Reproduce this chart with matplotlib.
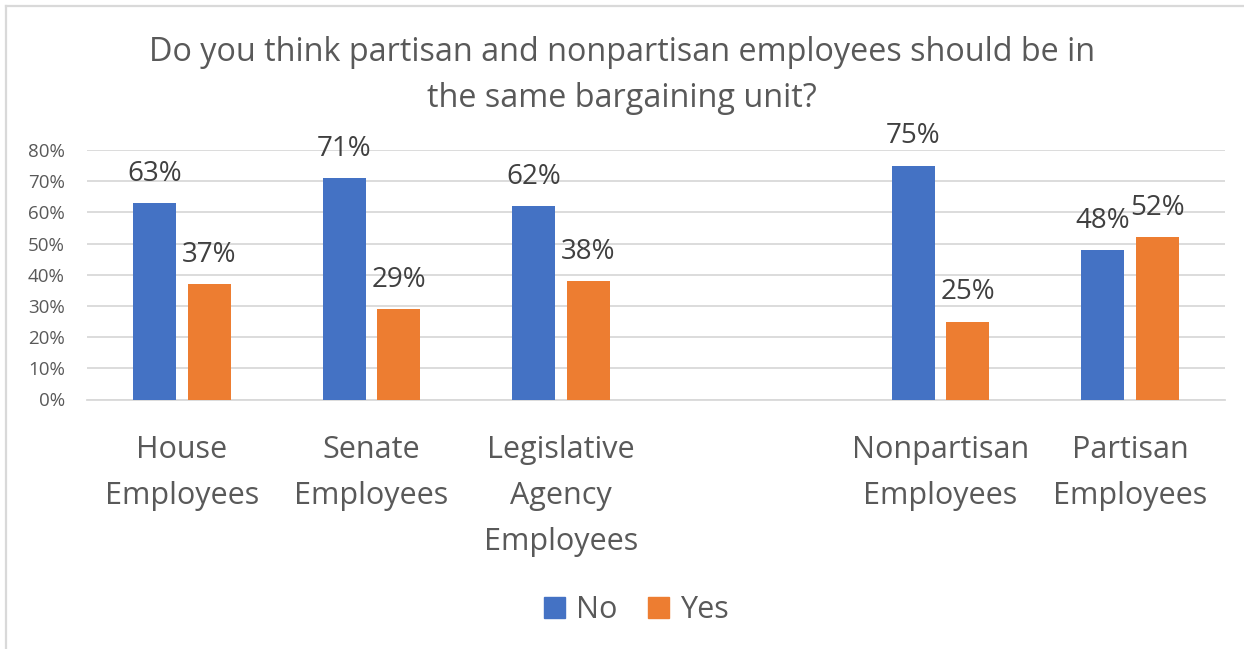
import matplotlib.pyplot as plt
from matplotlib.lines import Line2D
from matplotlib.patches import Patch
from matplotlib.ticker import PercentFormatter

# Survey results (share of responses)
categories = ['House\nEmployees', 'Senate\nEmployees', 'Legislative\nAgency\nEmployees',
              'Nonpartisan\nEmployees', 'Partisan\nEmployees']
positions = [0, 1, 2, 4, 5]   # slot 3 left empty to separate the two groups
no_vals = [63, 71, 62, 75, 48]
yes_vals = [37, 29, 38, 25, 52]
yticks = [0, 10, 20, 30, 40, 50, 60, 70, 80]

BLUE = '#4472C4'
ORANGE = '#ED7D31'
GRID = '#D9D9D9'
TXT = '#595959'
LBL = '#404040'

plt.rcParams['font.family'] = ['Open Sans', 'DejaVu Sans']

W, H = 1244, 649
fig = plt.figure(figsize=(W / 100, H / 100), dpi=100)

# chart frame (only left and top edges fall inside the image)
fig.add_artist(Line2D([5.5 / W, 5.5 / W], [0, 1 - 5.5 / H], transform=fig.transFigure,
                      color=GRID, lw=1.6))
fig.add_artist(Line2D([5.5 / W, 1], [1 - 5.5 / H, 1 - 5.5 / H], transform=fig.transFigure,
                      color=GRID, lw=1.6))

left, right = 87 / W, 1225 / W
bottom, top = (H - 399.5) / H, (H - 150) / H
ax = fig.add_axes([left, bottom, right - left, top - bottom])

width = 0.227
off = 0.144
xn = [p - off for p in positions]
xy = [p + off for p in positions]
bars_no = ax.bar(xn, no_vals, width, color=BLUE, zorder=3, label='No')
bars_yes = ax.bar(xy, yes_vals, width, color=ORANGE, zorder=3, label='Yes')

for bars, vals in ((bars_no, no_vals), (bars_yes, yes_vals)):
    for b, v in zip(bars, vals):
        ax.annotate(f'{v}%', (b.get_x() + b.get_width() / 2, v),
                    xytext=(0, 21), textcoords='offset points',
                    ha='center', va='center', fontsize=20, color=LBL)

ax.set_xlim(-0.5, 5.5)
ax.set_ylim(0, 80)
ax.set_yticks(yticks)
ax.yaxis.set_major_formatter(PercentFormatter(decimals=0))
ax.grid(axis='y', color=GRID, lw=1.3, zorder=0)
ax.set_axisbelow(True)
for s in ['left', 'right', 'top']:
    ax.spines[s].set_visible(False)
ax.spines['bottom'].set_color(GRID)
ax.spines['bottom'].set_linewidth(1.3)

ax.set_xticks(positions)
ax.set_xticklabels(categories, fontsize=22, color=TXT, linespacing=1.7, va='top')
ax.tick_params(axis='x', length=0, pad=25.5)
ax.tick_params(axis='y', length=0, pad=16, labelsize=13.5, labelcolor=TXT)

fig.text(0.5, 1 - 75.5 / H, 'Do you think partisan and nonpartisan employees should be in\nthe same bargaining unit?',
         ha='center', va='center', fontsize=23.3, color=TXT, linespacing=1.52)

handles = [Patch(color=BLUE, label='No'), Patch(color=ORANGE, label='Yes')]
fig.legend(handles=handles, loc='center', bbox_to_anchor=(636 / W, 1 - 610 / H),
           ncol=2, frameon=False, fontsize=22, labelcolor=TXT,
           handlelength=0.7, handleheight=0.7, handletextpad=0.35, columnspacing=1.0)

fig.savefig('out.png', dpi=100)
